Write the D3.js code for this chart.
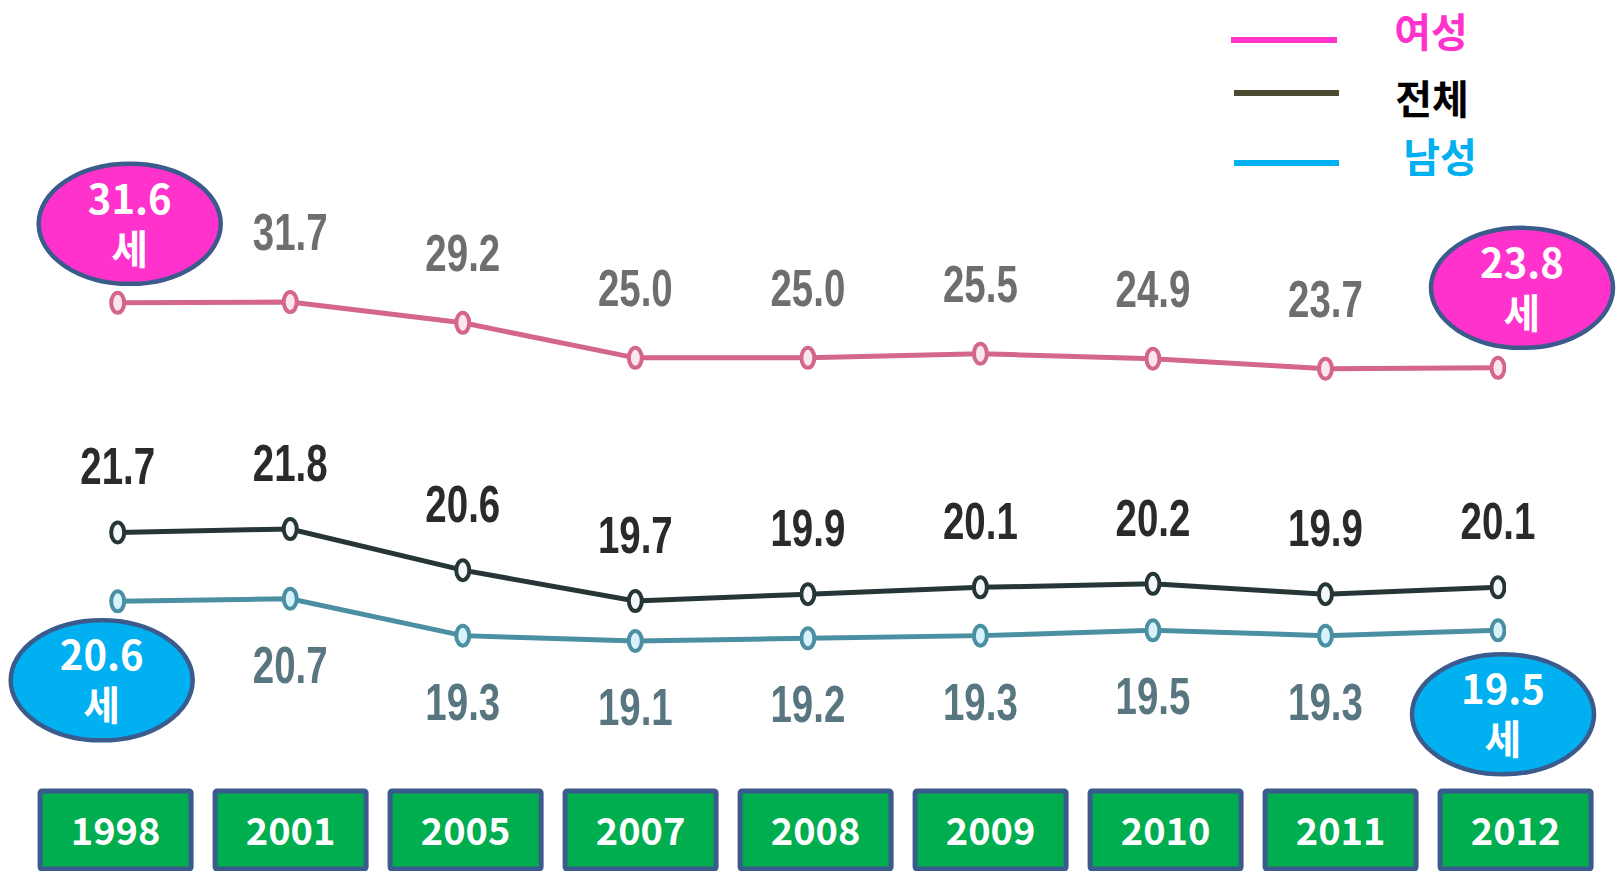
<!DOCTYPE html>
<html><head><meta charset="utf-8">
<script src="https://cdn.jsdelivr.net/npm/d3@7/dist/d3.min.js"></script>
<style>html,body{margin:0;padding:0;background:#fff;overflow:hidden}</style>
</head><body><svg id="c" width="1619" height="871"></svg>
<script>
const years = ["1998","2001","2005","2007","2008","2009","2010","2011","2012"];
const female = [31.6,31.7,29.2,25.0,25.0,25.5,24.9,23.7,23.8];
const total  = [21.7,21.8,20.6,19.7,19.9,20.1,20.2,19.9,20.1];
const male   = [20.6,20.7,19.3,19.1,19.2,19.3,19.5,19.3,19.5];
const seriesNames = ["여성","전체","남성"];
const unit = "세";

const svg = d3.select("#c");
const x = d3.scalePoint().domain(years).range([117.7,1498]);
const xBox = d3.scalePoint().domain(years).range([115.6,1515.6]);
// each series drawn on its own (broken) value scale, as in the original
const yF = d3.scaleLinear().domain([23.7,31.7]).range([368.7,302]);
const yT = d3.scaleLinear().domain([19.7,21.8]).range([601,529]);
const yM = d3.scaleLinear().domain([19.1,20.7]).range([640.9,598.7]);

const series = [
  {name:seriesNames[0], vals:female, y:yF, line:"#d3668a", mfill:"#fbe6ee", label:"#6e6e6e", off:-52, skip:[0,8]},
  {name:seriesNames[1], vals:total,  y:yT, line:"#263636", mfill:"#f4f8f8", label:"#2a2a2a", off:-48, skip:[]},
  {name:seriesNames[2], vals:male,   y:yM, line:"#4b8fa2", mfill:"#d6f3fb", label:"#587680", off:84, skip:[0,8]}
];

const defs = svg.append("defs");
defs.append("filter").attr("id","soft").append("feGaussianBlur").attr("stdDeviation",0.7);

series.forEach(s=>{
  const g = svg.append("g");
  const line = d3.line().x((d,i)=>x(years[i])).y(d=>s.y(d));
  g.append("path").datum(s.vals).attr("d",line).attr("fill","none")
    .attr("stroke",s.line).attr("stroke-width",5).attr("filter","url(#soft)");
  g.selectAll("ellipse").data(s.vals).join("ellipse")
    .attr("cx",(d,i)=>x(years[i])).attr("cy",d=>s.y(d))
    .attr("rx",6.5).attr("ry",10).attr("fill",s.mfill)
    .attr("stroke",s.line).attr("stroke-width",4).attr("filter","url(#soft)");
  g.selectAll("text").data(s.vals.map((v,i)=>({v,i})).filter(d=>!s.skip.includes(d.i))).join("text")
    .attr("transform",d=>`translate(${x(years[d.i])},${s.y(d.v) + s.off}) scale(0.74,1)`)
    .attr("text-anchor","middle")
    .attr("font-family","'Liberation Sans Narrow','Liberation Sans',Arial,sans-serif")
    .attr("font-weight","bold").attr("font-size",52)
    .attr("fill",s.label).attr("filter","url(#soft)")
    .text(d=>d.v.toFixed(1));
});

// callout ellipses
const callouts = [
  {s:0,i:0,dx:12,dy:-79,fill:"#ff33cc"},
  {s:0,i:8,dx:24,dy:-80,fill:"#ff33cc"},
  {s:2,i:0,dx:-16,dy:79,fill:"#00b0f0"},
  {s:2,i:8,dx:5,dy:84,fill:"#00b0f0"}
];
callouts.forEach(c=>{
  const s = series[c.s];
  const cx = x(years[c.i]) + c.dx, cy = s.y(s.vals[c.i]) + c.dy;
  const g = svg.append("g");
  g.append("ellipse").attr("cx",cx).attr("cy",cy).attr("rx",91).attr("ry",60)
    .attr("fill",c.fill).attr("stroke","#3a5b8b").attr("stroke-width",4.5);
  const t = g.append("text").attr("text-anchor","middle")
    .attr("font-family","'Noto Sans CJK KR','Noto Sans',sans-serif").attr("font-weight","bold")
    .attr("font-size",40).attr("fill","#fff");
  t.append("tspan").attr("x",cx).attr("y",cy-10).text(s.vals[c.i].toFixed(1));
  t.append("tspan").attr("x",cx).attr("y",cy+40).text(unit);
});

// legend
const legend = [
  {name:seriesNames[0], color:"#ff33cc", text:"#ff33cc", ly:40, x1:1231, x2:1337, tx:1431, ty:33},
  {name:seriesNames[1], color:"#4d4a33", text:"#000000", ly:93, x1:1234, x2:1339, tx:1432, ty:100},
  {name:seriesNames[2], color:"#00b0f0", text:"#00b0f0", ly:163, x1:1234, x2:1339, tx:1440, ty:158}
];
legend.forEach(l=>{
  svg.append("line").attr("x1",l.x1).attr("x2",l.x2).attr("y1",l.ly).attr("y2",l.ly)
    .attr("stroke",l.color).attr("stroke-width",6);
  svg.append("text").attr("x",l.tx).attr("y",l.ty).attr("dy","0.36em").attr("text-anchor","middle")
    .attr("font-family","'Noto Sans CJK KR',sans-serif").attr("font-weight","bold")
    .attr("font-size",40).attr("fill",l.text).text(l.name);
});

// year boxes
const bw = 151, bh = 78;
const boxes = svg.append("g");
boxes.selectAll("rect").data(years).join("rect")
  .attr("x",d=>xBox(d)-bw/2).attr("y",791).attr("width",bw).attr("height",bh)
  .attr("rx",2)
  .attr("fill","#00ad4f").attr("stroke","#3b5b8c").attr("stroke-width",5);
boxes.selectAll("text").data(years).join("text")
  .attr("x",d=>xBox(d)).attr("y",845).attr("text-anchor","middle")
  .attr("font-family","'Noto Sans CJK KR','Noto Sans',sans-serif")
  .attr("font-weight","bold").attr("font-size",38).attr("fill","#fff").text(d=>d);
</script></body></html>
